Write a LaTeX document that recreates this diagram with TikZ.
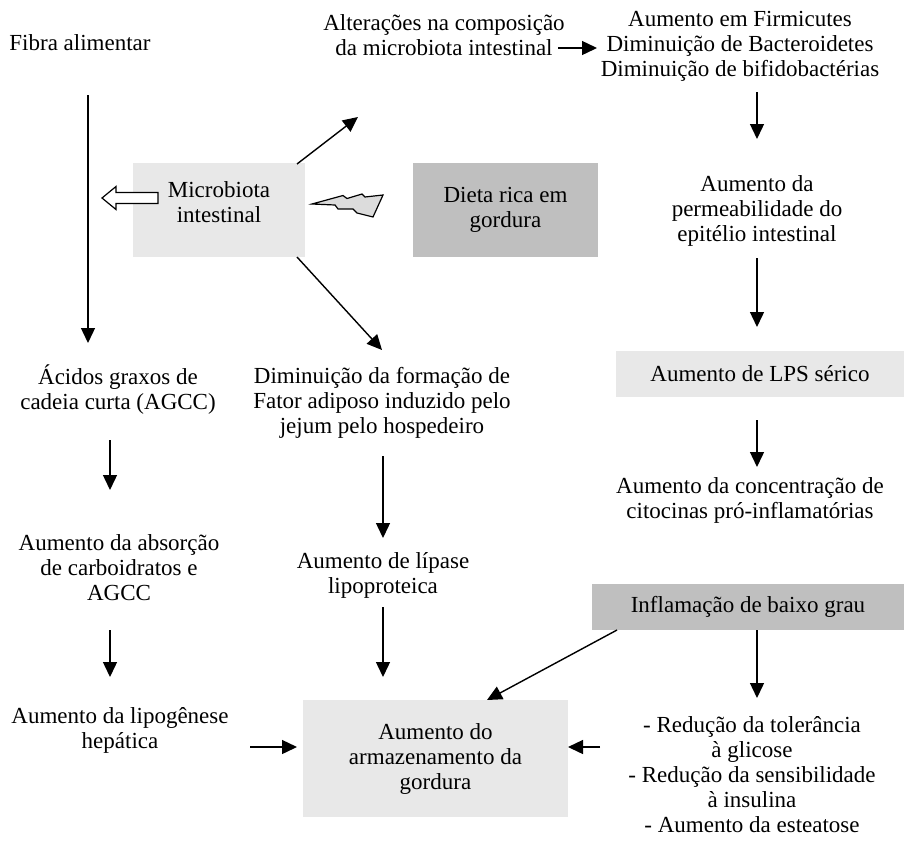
\documentclass[tikz,border=0pt]{standalone}
\usepackage{fontspec}
\setmainfont{Liberation Serif}
\usetikzlibrary{arrows.meta}
\definecolor{lightbox}{HTML}{E8E8E8}
\definecolor{darkbox}{HTML}{BFBFBF}
\definecolor{boltgray}{HTML}{DCDCDC}
\begin{document}
\begin{tikzpicture}[x=1pt,y=-1pt,
  txt/.style={align=center, inner sep=0pt, font=\fontsize{23}{25}\selectfont},
  lbox/.style={txt, fill=lightbox, draw=none},
  dbox/.style={txt, fill=darkbox, draw=none},
  arr/.style={line width=1.4pt, -{Triangle[width=14pt,length=15pt]}},
  openarrow/.style={draw=black, fill=white, line width=1.2pt, line join=miter},
  bolt/.style={draw=black, fill=boltgray, line width=1.2pt, line join=miter}
]
\useasboundingbox[fill=white] (0,0) rectangle (904,841);

% boxes
\node[lbox, minimum width=172pt, minimum height=94pt] (micro) at (219,210) {};
\node[txt] (microtxt) at (219,202) {Microbiota\\intestinal};
\node[dbox, minimum width=185pt, minimum height=94pt] (dieta) at (505.5,210) {Dieta rica em\\gordura};
\node[lbox, minimum width=288pt, minimum height=46pt] (lps) at (760,374) {Aumento de LPS sérico};
\node[dbox, minimum width=312pt, minimum height=46pt] (infl) at (748,607) {Inflamação de baixo grau};
\node[lbox, minimum width=265pt, minimum height=117pt] (armaz) at (435.5,758.5) {Aumento do\\armazenamento da\\gordura};

% text nodes
\node[txt] (fibra) at (80,43) {Fibra alimentar};
\node[txt] (alter) at (444,35) {Alterações na composição\\da microbiota intestinal};
\node[txt] (firm) at (740,46) {Aumento em Firmicutes\\Diminuição de Bacteroidetes\\Diminuição de bifidobactérias};
\node[txt] (perm) at (757,211) {Aumento da\\permeabilidade do\\epitélio intestinal};
\node[txt] (conc) at (750,500) {Aumento da concentração de\\citocinas pró-inflamatórias};
\node[txt] (red) at (752,775) {- Redução da tolerância\\à glicose\\- Redução da sensibilidade\\à insulina\\- Aumento da esteatose};
\node[txt] (acidos) at (118,390) {Ácidos graxos de\\cadeia curta (AGCC)};
\node[txt] (absor) at (119,568) {Aumento da absorção\\de carboidratos e\\AGCC};
\node[txt] (lipo) at (120,730) {Aumento da lipogênese\\hepática};
\node[txt] (dimin) at (382,403) {Diminuição da formação de\\Fator adiposo induzido pelo\\jejum pelo hospedeiro};
\node[txt] (lipase) at (383,575) {Aumento de lípase\\lipoproteica};

% connector end points
\coordinate (fibraS) at (88,95);   \coordinate (acidosN) at (88,343);
\coordinate (acidosS) at (110,440); \coordinate (absorN) at (110,490);
\coordinate (absorS) at (110,630);  \coordinate (lipoN) at (110,677);
\coordinate (lipoE) at (250,747);   \coordinate (armazW) at (297,747);
\coordinate (diminS) at (383,456);  \coordinate (lipaseN) at (383,538);
\coordinate (lipaseS) at (383,607); \coordinate (armazN) at (383,677);
\coordinate (microNE) at (297,164); \coordinate (alterSW) at (358,117);
\coordinate (microSE) at (297,257); \coordinate (diminN) at (382,350);
\coordinate (alterE) at (558,48);   \coordinate (firmW) at (597,48);
\coordinate (firmS) at (757,92);    \coordinate (permN) at (757,139);
\coordinate (permS) at (757,258);   \coordinate (lpsN) at (757,327);
\coordinate (lpsS) at (757,420);    \coordinate (concN) at (757,467);
\coordinate (inflS) at (757,630);   \coordinate (redN) at (757,698);
\coordinate (inflSW) at (617,630);  \coordinate (armazNE) at (487,700);
\coordinate (redW) at (600,747);    \coordinate (armazE) at (568,747);

% connectors
\draw[arr] (fibraS) -- (acidosN);
\draw[arr] (acidosS) -- (absorN);
\draw[arr] (absorS) -- (lipoN);
\draw[arr] (lipoE) -- (armazW);
\draw[arr] (diminS) -- (lipaseN);
\draw[arr] (lipaseS) -- (armazN);
\draw[arr] (microNE) -- (alterSW);
\draw[arr] (microSE) -- (diminN);
\draw[arr] (alterE) -- (firmW);
\draw[arr] (firmS) -- (permN);
\draw[arr] (permS) -- (lpsN);
\draw[arr] (lpsS) -- (concN);
\draw[arr] (inflS) -- (redN);
\draw[arr] (inflSW) -- (armazNE);
\draw[arr] (redW) -- (armazE);

% open arrow out of the microbiota box
\draw[openarrow] (158,192.5) -- (116,192.5) -- (116,186.5) -- (102,198) -- (116,209.5) -- (116,203.5) -- (158,203.5) -- cycle;

% lightning bolt from the diet box
\draw[bolt] (312,204) -- (343,195.5) -- (347,198.5) -- (362,194) -- (365,197) -- (383,195) -- (373,217) -- (357,213) -- (353,209) -- (338,209) -- (335,205) -- cycle;
\end{tikzpicture}
\end{document}
